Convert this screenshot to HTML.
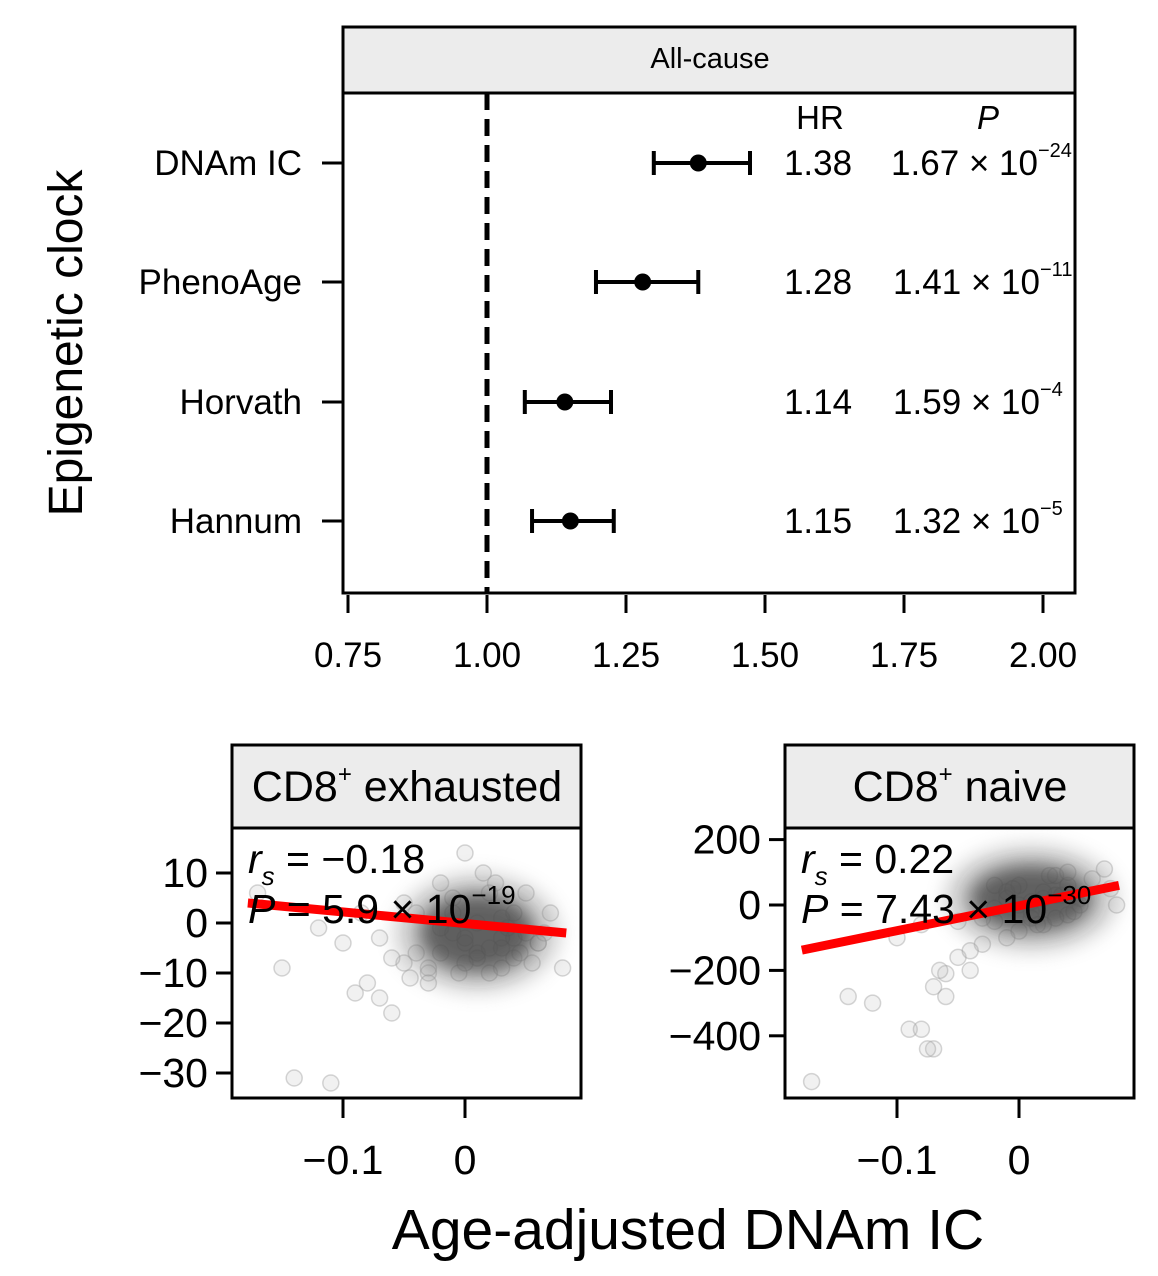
<!DOCTYPE html>
<html><head><meta charset="utf-8"><style>
body{margin:0;background:#fff}
svg{display:block;font-family:"Liberation Sans",sans-serif}
</style></head><body>
<svg width="1158" height="1276" viewBox="0 0 1158 1276">
<g id="forest"></g>
<g id="sc1"></g>
<g id="sc2"></g>
<text x="688" y="1249" font-size="57" text-anchor="middle">Age-adjusted DNAm IC</text>
<text transform="translate(82,343) rotate(-90)" font-size="48" text-anchor="middle">Epigenetic clock</text>
</svg>
<script>
const clocks=["DNAm IC","PhenoAge","Horvath","Hannum"];
const hr=[1.38,1.28,1.14,1.15];
const lo=[1.30,1.196,1.068,1.081];
const hi=[1.473,1.38,1.223,1.228];
const pMant=["1.67","1.41","1.59","1.32"];
const pExp=["−24","−11","−4","−5"];
const xTicks=[0.75,1.00,1.25,1.50,1.75,2.00];

const s1x=[-0.17,-0.15,-0.14,-0.11,-0.08,-0.07,-0.06,-0.05,-0.05,-0.04,-0.03,-0.02,-0.01,0,0.01,0.02,0.03,0.04,0.05,0.06,0.07,0.08,-0.09,-0.06,-0.04,-0.02,0.0,0.02,0.04,-0.03,-0.01,0.01,0.03,0.05,-0.02,0.0,0.02,0.04,0.06,-0.01,0.01,0.03,-0.005,0.015,0.035,0.025,0.045,-0.03,0.0,0.03,0.055,-0.12,-0.1,-0.07,-0.045,-0.085,0.065];
const s1y=[6,-9,-31,-32,-12,-15,-18,-8,4,-6,-9,-1,2,-4,-6,-5,-3,-7,-2,-4,2,-9,-14,-7,2,8,14,6,-3,-10,-2,0,-9,6,-6,-3,-10,2,-4,5,-7,1,-10,10,-1,8,-6,-12,-8,-5,-8,-1,-4,-3,-11,2,-2];
const s2x=[-0.17,-0.14,-0.12,-0.09,-0.08,-0.07,-0.06,-0.05,-0.04,-0.03,-0.02,-0.01,0,0.01,0.02,0.03,0.04,0.05,0.06,0.07,0.08,-0.1,-0.08,-0.06,-0.04,-0.02,0,0.02,0.04,-0.03,-0.01,0.01,0.03,0.05,-0.02,0,0.02,0.04,-0.01,0.01,0.03,-0.005,0.015,0.035,0.025,0.045,-0.05,-0.065,-0.07,-0.075,0.075];
const s2y=[-540,-280,-300,-380,-380,-440,-280,-160,-200,-120,-50,40,60,-40,20,30,-30,20,80,110,0,-100,-60,-210,-140,-10,0,-60,60,-40,20,10,90,0,60,-80,40,100,-100,-20,-40,50,-60,30,90,-20,-50,-200,-250,-440,50];

const NS="http://www.w3.org/2000/svg";
function mk(p,tag,a){const e=document.createElementNS(NS,tag);for(const k in a)e.setAttribute(k,a[k]);p.appendChild(e);return e;}

const F=document.getElementById('forest');
const fx=v=>348+(v-0.75)*556;
const rowY=[163,282,402,521];
let r=mk(F,'rect',{x:343,y:27,width:732,height:66,fill:'#ececec',stroke:'#000','stroke-width':3});


r=mk(F,'rect',{x:343,y:93,width:732,height:500,fill:'none',stroke:'#000','stroke-width':3});


let t=mk(F,'text',{x:710,y:68,'font-size':29,'text-anchor':'middle'});t.textContent='All-cause';


let l=mk(F,'line',{x1:fx(1),x2:fx(1),y1:93,y2:593,stroke:'#000','stroke-width':5,'stroke-dasharray':'17,9'});


t=mk(F,'text',{x:820,y:129,'font-size':33,'text-anchor':'middle'});t.textContent='HR';


t=mk(F,'text',{x:988,y:129,'font-size':33,'text-anchor':'middle','font-style':'italic'});t.textContent='P';


xTicks.forEach(v=>{
  const k=mk(F,'line',{x1:fx(v),x2:fx(v),y1:595,y2:613,stroke:'#000','stroke-width':3});
  
  
  const tl=mk(F,'text',{x:fx(v),y:667,'font-size':35,'text-anchor':'middle'});tl.textContent=v.toFixed(2);
  
  
});
clocks.forEach((c,i)=>{
  const y=rowY[i];
  const k=mk(F,'line',{x1:322,x2:343,y1:y,y2:y,stroke:'#000','stroke-width':3});
  
  
  const lb=mk(F,'text',{x:302,y:y+12,'font-size':35,'text-anchor':'end'});lb.textContent=c;
  
  
  const g=mk(F,'g',{stroke:'#000','stroke-width':4});
  
  
  mk(g,'line',{x1:fx(lo[i]),x2:fx(hi[i]),y1:y,y2:y});
  mk(g,'line',{x1:fx(lo[i]),x2:fx(lo[i]),y1:y-12,y2:y+12});
  mk(g,'line',{x1:fx(hi[i]),x2:fx(hi[i]),y1:y-12,y2:y+12});
  const d=mk(F,'circle',{cx:fx(hr[i]),cy:y,r:8.5,fill:'#000'});
  
  
  const h=mk(F,'text',{x:818,y:y+12,'font-size':35,'text-anchor':'middle'});h.textContent=hr[i].toFixed(2);
  
  
  const p=mk(F,'text',{x:i==0?1038:1040,y:y+12,'font-size':35,'text-anchor':'end'});p.textContent=pMant[i]+' × 10';
  
  
  const e=mk(F,'text',{x:i==0?1038:1040,y:y-6,'font-size':20});e.textContent=pExp[i];
  
  
});

function scatter(id,o){
  const G=document.getElementById(id);
  const sx=v=>o.x0+v*1220, sy=v=>o.y0-v*o.ky;
  let r=mk(G,'rect',{x:o.L,y:745,width:349,height:83,fill:'#ececec',stroke:'#000','stroke-width':3});
  
  
  let t=mk(G,'text',{x:o.L+175,y:801,'font-size':43,'text-anchor':'middle'});
  t.innerHTML='CD8<tspan font-size="24" dy="-19">+</tspan><tspan dy="19"> '+o.title+'</tspan>';
  
  
  o.xs.forEach((v,i)=>{
    const c=mk(G,'circle',{cx:sx(v),cy:sy(o.ys[i]),r:8,fill:'#bbb','fill-opacity':0.2,stroke:'#999','stroke-opacity':0.4,'stroke-width':1.5});
    
    
  });
  const halo=mk(G,'ellipse',{cx:sx(o.cx),cy:sy(o.cy),rx:o.rx+25,ry:o.ry+20,fill:'#999',opacity:0.45,filter:'url(#blur)'});
  
  
  const cl=mk(G,'ellipse',{cx:sx(o.cx),cy:sy(o.cy),rx:o.rx,ry:o.ry,fill:'#444',opacity:0.8,filter:'url(#blur)'});
  
  
  const ln=mk(G,'line',{x1:sx(o.lx[0]),y1:sy(o.ly[0]),x2:sx(o.lx[1]),y2:sy(o.ly[1]),stroke:'#ff0000','stroke-width':9});
  
  
  t=mk(G,'text',{x:o.L+16,y:873,'font-size':41});
  t.innerHTML='<tspan font-style="italic">r</tspan><tspan font-size="26" dy="12" font-style="italic">s</tspan><tspan dy="-12"> = '+o.r+'</tspan>';
  
  
  t=mk(G,'text',{x:o.L+16,y:923,'font-size':41});
  t.innerHTML='<tspan font-style="italic">P</tspan> = '+o.p+' × 10<tspan font-size="26" dy="-19">'+o.pe+'</tspan>';
  
  
  r=mk(G,'rect',{x:o.L,y:828,width:349,height:270,fill:'none',stroke:'#000','stroke-width':3});
  
  
  o.yt.forEach(v=>{
    const k=mk(G,'line',{x1:o.L-16,x2:o.L,y1:sy(v),y2:sy(v),stroke:'#000','stroke-width':3});
    
    
    const tl=mk(G,'text',{x:o.L-24,y:sy(v)+14,'font-size':41,'text-anchor':'end'});tl.textContent=String(v).replace('-','−');
    
    
  });
  [-0.1,0].forEach(v=>{
    const k=mk(G,'line',{x1:sx(v),x2:sx(v),y1:1098,y2:1118,stroke:'#000','stroke-width':3});
    
    
    const tl=mk(G,'text',{x:sx(v),y:1174,'font-size':41,'text-anchor':'middle'});tl.textContent=v==0?'0':'−0.1';
    
    
  });
}
const defs=mk(document.querySelector('svg'),'defs',{});
const fl=mk(defs,'filter',{id:'blur',x:'-50%',y:'-50%',width:'200%',height:'200%'});
mk(fl,'feGaussianBlur',{stdDeviation:9});
scatter('sc1',{L:232,x0:465,y0:923,ky:5,title:'exhausted',r:'−0.18',p:'5.9',pe:'−19',xs:s1x,ys:s1y,yt:[10,0,-10,-20,-30],lx:[-0.178,0.083],ly:[4,-2],cx:0.01,cy:-2,rx:58,ry:40});
scatter('sc2',{L:785,x0:1019,y0:905,ky:0.327,title:'naive',r:'0.22',p:'7.43',pe:'−30',xs:s2x,ys:s2y,yt:[200,0,-200,-400],lx:[-0.178,0.082],ly:[-138,60],cx:0.01,cy:20,rx:62,ry:34});
</script>
</body></html>
